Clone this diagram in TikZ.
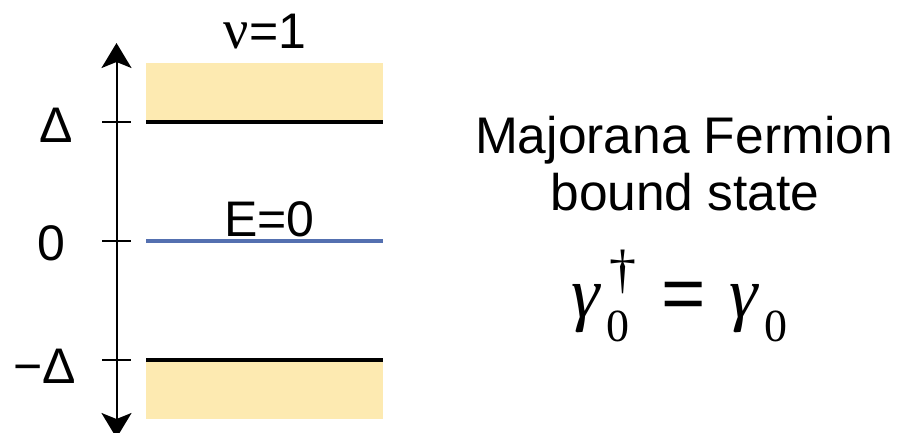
\documentclass[tikz,border=0pt]{standalone}
\usepackage{fontspec}
\setmainfont{Liberation Sans}
\newfontfamily\serifgr{Liberation Serif}
\usetikzlibrary{arrows.meta}
\definecolor{bandcol}{RGB}{253,234,177}
\definecolor{zerocol}{RGB}{84,112,176}
\begin{document}
\begin{tikzpicture}[x=1pt,y=-1pt,
  lbl/.style={inner sep=0pt,anchor=base,font=\fontsize{50}{50}\selectfont},
  glyph/.style={inner sep=0pt,anchor=center},
  gam/.style={glyph,font=\serifgr\itshape\fontsize{72}{72}\selectfont},
  sub/.style={glyph,font=\serifgr\fontsize{46}{46}\selectfont},
  tick/.style={line width=2pt},
  level/.style={line width=4.5pt}]
\useasboundingbox (0,0) rectangle (916,432);
\clip (0,0) rectangle (916,432);
% bands
\fill[bandcol] (146,63) rectangle (383,122);
\fill[bandcol] (146,360) rectangle (383,419);
% axis
\coordinate (top) at (116.5,43);
\coordinate (bot) at (116.5,438);
\draw[line width=2pt,{Stealth[length=25pt 0,width=30pt 0,inset=6pt 0]}-{Stealth[length=25pt 0,width=30pt 0,inset=6pt 0]}] (top) -- (bot);
% ticks
\coordinate (t1a) at (102,122); \coordinate (t1b) at (131,122);
\coordinate (t2a) at (102,241); \coordinate (t2b) at (131,241);
\coordinate (t3a) at (102,360); \coordinate (t3b) at (131,360);
\draw[tick] (t1a) -- (t1b);
\draw[tick] (t2a) -- (t2b);
\draw[tick] (t3a) -- (t3b);
% levels
\coordinate (l1a) at (146,122); \coordinate (l1b) at (383,122);
\coordinate (l2a) at (146,241); \coordinate (l2b) at (383,241);
\coordinate (l3a) at (146,360); \coordinate (l3b) at (383,360);
\draw[level] (l1a) -- (l1b);
\draw[level,zerocol,line width=3.5pt] (l2a) -- (l2b);
\draw[level] (l3a) -- (l3b);
% axis labels
\node[lbl] (delta) at (56,142) {Δ};
\node[lbl] (zero) at (51,260) {0};
\node[lbl] (mdelta) at (45,383) {−Δ};
\node[lbl] (nu) at (265,48) {{\serifgr\fontsize{56}{56}\selectfont ν}=1};
\node[lbl] (ezero) at (269.5,236) {E=0};
% right text
\node[lbl,font=\fontsize{51.5}{51.5}\selectfont] (maj) at (684,153) {Majorana Fermion};
\node[lbl,font=\fontsize{51.5}{51.5}\selectfont] (bound) at (685,210) {bound state};
% equation
\node[gam] (g1) at (585.5,308.5) {γ};
\node[sub] (s1) at (618,326) {0};
\node[glyph,font=\serifgr\fontsize{54}{54}\selectfont] (dag) at (622.5,271.5) {†};
\node[glyph,font=\fontsize{76}{76}\selectfont] (eq) at (684,300.5) {=};
\node[gam] (g2) at (744,308.5) {γ};
\node[sub] (s2) at (776,326) {0};
\end{tikzpicture}
\end{document}
